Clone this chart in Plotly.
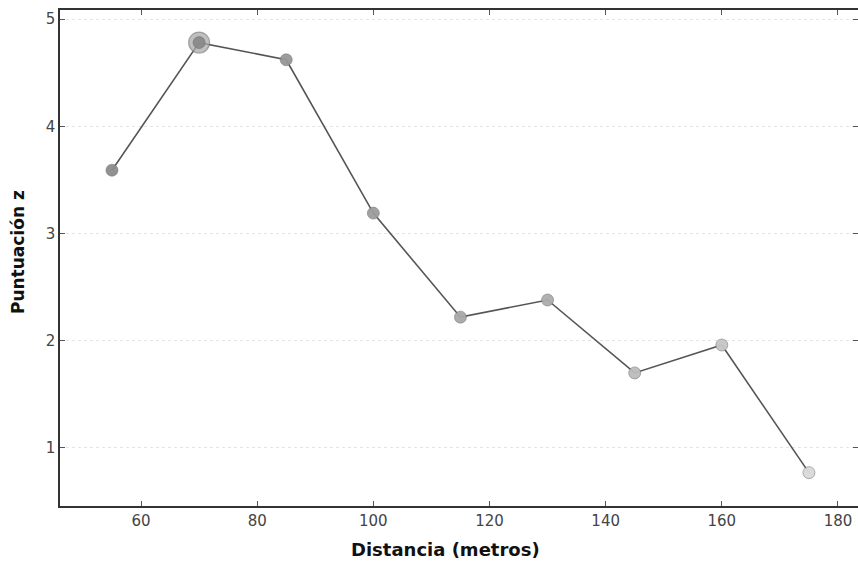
import plotly.graph_objects as go

# Distance (m) vs z-score
distancia = [55, 70, 85, 100, 115, 130, 145, 160, 175]
puntuacion_z = [3.59, 4.78, 4.62, 3.19, 2.22, 2.38, 1.70, 1.96, 0.77]
# marker fill shades, darker for closer distances
tonos = ["#8c8c8c", "#8a8a8a", "#979797", "#9c9c9c", "#a8a8a8",
         "#adadad", "#bcbcbc", "#c6c6c6", "#dadada"]
destacado = 1  # index of the peak point, drawn with a halo

x_ticks = [60, 80, 100, 120, 140, 160, 180]
y_ticks = [1, 2, 3, 4, 5]
y_range = [0.459, 5.084]

fig = go.Figure()

fig.add_trace(go.Scatter(
    x=distancia, y=puntuacion_z, mode="lines",
    line=dict(color="#555555", width=1.6),
    hoverinfo="skip", showlegend=False,
))

# halo around the peak
fig.add_trace(go.Scatter(
    x=[distancia[destacado]], y=[puntuacion_z[destacado]], mode="markers",
    marker=dict(size=21, color="rgba(170,170,170,0.75)",
                line=dict(color="rgba(120,120,120,0.6)", width=1.2)),
    hoverinfo="skip", showlegend=False,
))

fig.add_trace(go.Scatter(
    x=distancia, y=puntuacion_z, mode="markers",
    marker=dict(size=12, color=tonos, opacity=0.95,
                line=dict(color="rgba(110,110,110,0.55)", width=1)),
    showlegend=False,
))

# invisible trace so the right-hand tick axis is drawn
fig.add_trace(go.Scatter(
    x=distancia, y=puntuacion_z, mode="markers", yaxis="y2",
    marker=dict(size=1, opacity=0), hoverinfo="skip", showlegend=False,
))

axis_common = dict(
    showline=True, linecolor="#333333", linewidth=1.6,
    ticks="inside", ticklen=5, tickwidth=1, tickcolor="#555555",
    tickfont=dict(family="DejaVu Sans", size=15, color="#444444"),
    zeroline=False,
)

fig.update_xaxes(
    range=[46.05, 183.45], tickvals=x_ticks, showgrid=False, mirror="ticks",
    **axis_common,
)
fig.update_yaxes(
    range=y_range, tickvals=y_ticks, showgrid=True,
    gridcolor="#e4e4e4", griddash="dot", gridwidth=1,
    **axis_common,
)

# axis titles
fig.add_annotation(
    text="Distancia (metros)", xref="paper", yref="paper",
    x=0.4825, y=-0.0887, xanchor="center", yanchor="middle", showarrow=False,
    font=dict(family="DejaVu Sans", size=18, color="#111111", weight="bold"),
)
fig.add_annotation(
    text="Puntuación z", xref="paper", yref="paper", textangle=-90,
    x=-0.0526, y=0.512, xanchor="center", yanchor="middle", showarrow=False,
    font=dict(family="DejaVu Sans", size=17, color="#111111", weight="bold"),
)

fig.update_layout(
    width=858, height=562,
    margin=dict(l=60, r=0, t=10, b=56),
    paper_bgcolor="white", plot_bgcolor="white",
    yaxis2=dict(
        overlaying="y", side="right", range=y_range, tickvals=y_ticks,
        showline=False, showgrid=False, zeroline=False, showticklabels=False,
        ticks="inside", ticklen=5, tickwidth=1, tickcolor="#555555",
    ),
)

fig.write_html("out.html")
